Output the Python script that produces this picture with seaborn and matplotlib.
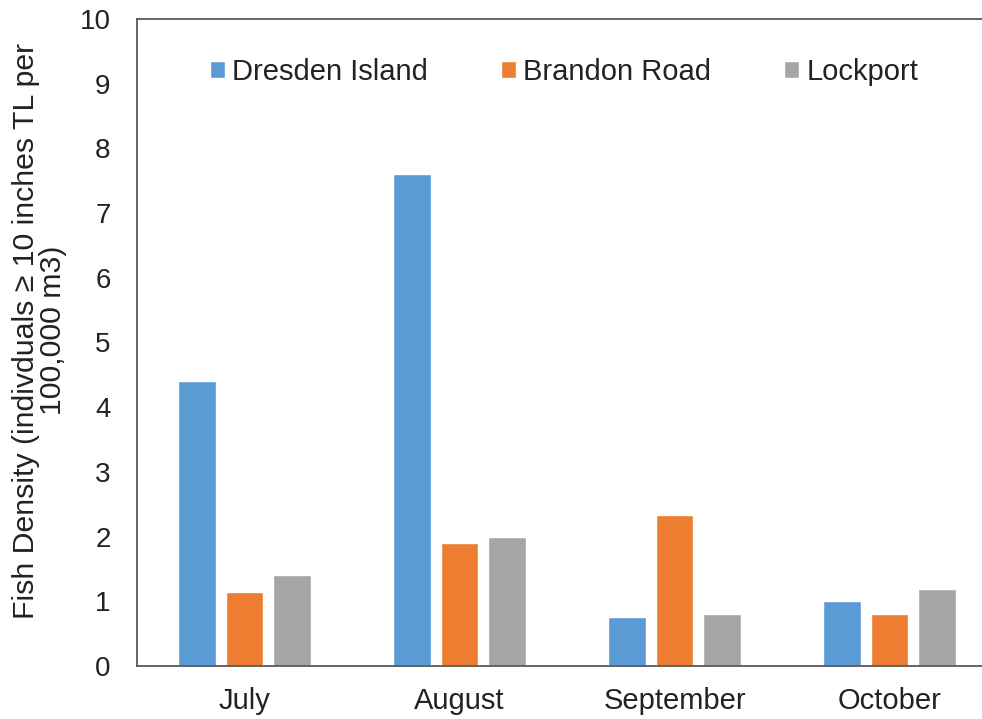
import matplotlib
matplotlib.use("Agg")
import matplotlib.pyplot as plt
import seaborn as sns
import pandas as pd

months = ["July", "August", "September", "October"]
sites = ["Dresden Island", "Brandon Road", "Lockport"]
dresden = [4.40, 7.60, 0.76, 1.01]
brandon = [1.14, 1.90, 2.33, 0.80]
lockport = [1.40, 2.00, 0.81, 1.19]
colors = ["#5B9BD5", "#ED7D31", "#A5A5A5"]

df = pd.DataFrame({
    "month": months * 3,
    "site": [s for s in sites for _ in months],
    "density": dresden + brandon + lockport,
})

sns.set_style("white")
plt.rcParams["font.family"] = ["Liberation Sans", "DejaVu Sans"]

fig = plt.figure(figsize=(9.82, 7.19), dpi=100)
ax = fig.add_axes([0.1395, 0.0737, 0.876, 0.900])

sns.barplot(data=df, x="month", y="density", hue="site", palette=colors,
            width=0.663, gap=0.21, saturation=1, ax=ax, legend=True)

ax.set_ylim(0, 10)
ax.set_yticks(range(0, 11))
ax.set_xlim(-0.5, 3.5)
ax.tick_params(axis="both", length=0, colors="#222222")
ax.tick_params(axis="x", labelsize=21, pad=15)
ax.tick_params(axis="y", labelsize=20, pad=19)
ax.set_xlabel("")
ax.set_ylabel("Fish Density (indivduals \u2265 10 inches TL per\n100,000 m3)",
              fontsize=21.8, color="#222222", linespacing=0.95)
ax.yaxis.set_label_coords(-0.081, 0.518)

for side in ["left", "top", "bottom"]:
    ax.spines[side].set_color("#595959")
    ax.spines[side].set_linewidth(1.3)
ax.spines["right"].set_visible(False)

ax.legend(loc="center left", bbox_to_anchor=(0.085, 0.918), ncol=3, frameon=False,
          fontsize=21, handlelength=0.52, handleheight=0.52, handletextpad=0.24,
          columnspacing=2.5, borderpad=0, borderaxespad=0, labelcolor="#222222")

fig.savefig("out.png", dpi=100)
